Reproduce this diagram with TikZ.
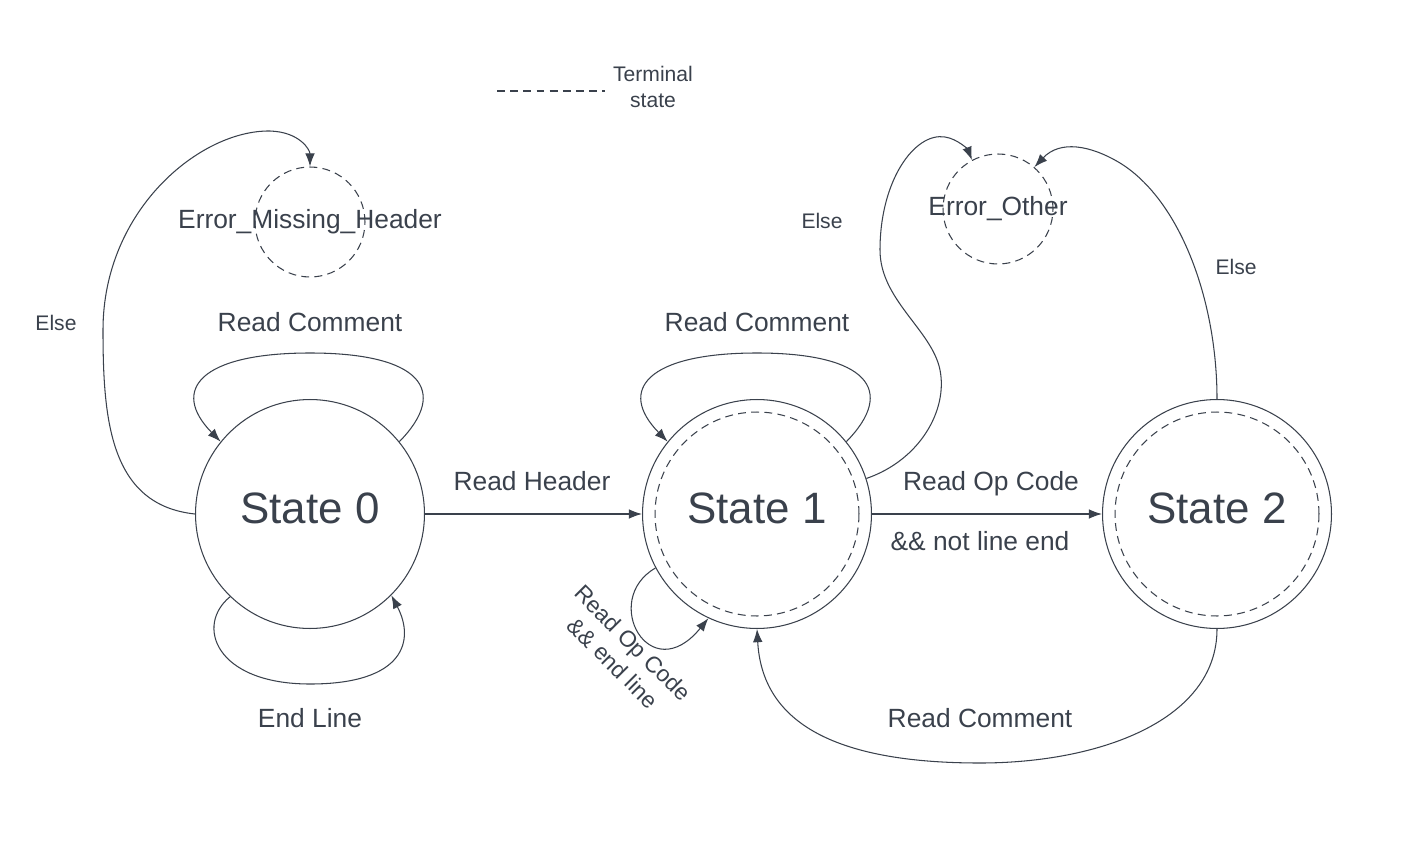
\documentclass[tikz,border=0pt]{standalone}
\usepackage{fontspec}
\setmainfont{Liberation Sans}
\usetikzlibrary{arrows.meta}
\definecolor{ink}{RGB}{58,65,76}

\begin{document}
\begin{tikzpicture}[x=0.02cm, y=-0.02cm, line width=0.6pt, color=ink,
		>={Latex[length=7.5pt,width=5.5pt]},
		dashes/.style={dash pattern=on 4.5pt off 3pt},
		state/.style={circle, draw, minimum size=4.58cm, inner sep=0pt, text depth=6.5pt, font=\fontsize{25}{30}\selectfont},
		terminal/.style={circle, draw, dashes, minimum size=2.2cm, inner sep=0pt, label={[font=\fontsize{15}{18}\selectfont]center:#1}},
		lbl/.style={font=\fontsize{15}{18}\selectfont},
		small/.style={font=\fontsize{12}{15}\selectfont}]
		      		\useasboundingbox (0,0) rectangle (1406,848);

		      		% legend
		      		\coordinate (lga) at (497,91);
		      		\coordinate (lgb) at (605,91);
		      		\draw[dashes] (lga) -- (lgb);
		      		\node[small, align=center] (leg) at (653,87) {Terminal\\state};

		      		% states
		      		\node[state] (s0) at (310,514) {State 0};
		      		\node[state] (s1) at (757,514) {State 1};
		      		\node[state] (s2) at (1217,514) {State 2};
		      		\draw[dashes] (s1.center) circle (2.04cm);
		      		\draw[dashes] (s2.center) circle (2.04cm);
		      		\node[terminal=Error\_Missing\_Header] (em) at (310,222) {};
		      		\node[terminal=Error\_Other] (eo) at (998,209) {};

		      		% transitions
		      		\draw[->] (s0) -- (s1);
		      		\draw[->] (s1) -- (s2);
		      		\draw[->] (s0.39) .. controls (450,390) and (420,353) .. (310,353) .. controls (200,353) and (170,390) .. (s0.141);
		      		\draw[->] (s0.-134) .. controls (195,625) and (215,684) .. (310,684) .. controls (405,684) and (415,640) .. (s0.-45);
		      		\draw[->] (s0.west) .. controls (110,505) and (103,420) .. (103,330) .. controls (103,210) and (200,130) .. (270,131) .. controls (300,132) and (310,150) .. (em.north);
		      		\draw[->] (s1.39) .. controls (897,390) and (867,353) .. (757,353) .. controls (647,353) and (617,390) .. (s1.141);
		      		\draw[->] (s1.208) .. controls (600,600) and (650,690) .. (s1.245);
		      		\draw[->] (s1.18) .. controls (920,460) and (948,410) .. (940,370) .. controls (932,330) and (880,300) .. (880,250) .. controls (880,180) and (915,132) .. (945,137) .. controls (958,139) and (968,150) .. (eo.118);
		      		\draw[->] (s2.north) .. controls (1217,300) and (1180,200) .. (1120,163) .. controls (1090,145) and (1060,140) .. (eo.49);
		      		\draw[->] (s2.south) .. controls (1217,720) and (1100,763) .. (980,763) .. controls (830,763) and (762,720) .. (s1.south);

		      		% labels
		      		\node[lbl] (rc0) at (310,322) {Read Comment};
		      		\node[lbl] (el0) at (310,718) {End Line};
		      		\node[small] (else0) at (56,323) {Else};
		      		\node[lbl] (rh) at (532,481) {Read Header};
		      		\node[lbl] (rc1) at (757,322) {Read Comment};
		      		\node[font=\fontsize{13}{16}\selectfont, align=center, rotate=-45] (roe) at (623,653) {Read Op Code\\\&\& end line};
		      		\node[small] (else1) at (822,221) {Else};
		      		\node[lbl] (ro) at (991,484) {Read Op Code};
		      		\node[lbl] (nle) at (980,541) {\&\& not line end};
		      		\node[small] (else2) at (1236,267) {Else};
		      		\node[lbl] (rc2) at (980,718) {Read Comment};
		      	\end{tikzpicture}
\end{document}
